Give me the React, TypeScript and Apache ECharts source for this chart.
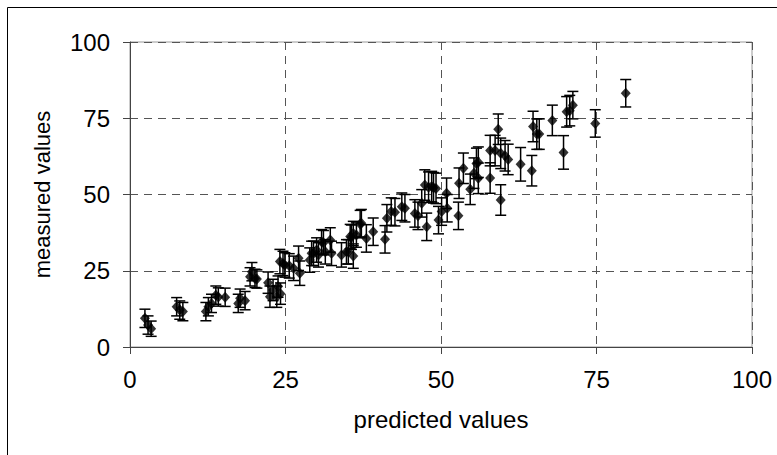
import React, { useEffect, useRef } from "react";
import * as echarts from "echarts";

const predicted = [
  2.4, 2.9, 3.4, 7.5, 8.0, 8.5, 12.2, 12.6, 13.1, 13.8, 14.2, 15.3, 17.4, 17.7, 18.5,
  19.3, 19.6, 20.1, 20.4, 22.2, 22.5, 23.0, 23.6, 23.8, 24.2, 24.1, 24.6, 24.9, 25.6, 26.3,
  27.1, 27.3, 28.9, 29.2, 29.5, 30.0, 30.3, 30.8, 31.1, 31.4, 32.2, 32.4, 34.0, 34.8, 35.1,
  35.4, 35.6, 35.9, 35.9, 36.4, 37.0, 37.2, 38.0, 39.1, 41.0, 41.3, 42.0, 42.6, 43.7, 44.2,
  45.8, 46.3, 46.9, 47.4, 47.7, 48.0, 48.5, 48.8, 49.2, 49.6, 50.1, 50.9, 51.0, 52.8, 52.9,
  53.6, 54.7, 55.3, 55.7, 56.0, 56.0, 57.9, 57.9, 58.7, 59.2, 59.6, 59.6, 60.3, 60.8, 62.8,
  64.6, 64.8, 65.4, 65.8, 67.9, 69.7, 70.2, 70.7, 71.2, 74.8, 79.7,
];

const measured = [
  9.4, 7.2, 6.0, 13.2, 12.1, 11.6, 11.6, 13.2, 14.3, 17.0, 16.4, 16.3, 14.3, 16.0, 15.2,
  23.0, 24.7, 22.5, 22.3, 21.1, 16.5, 18.7, 16.5, 19.8, 17.5, 28.0, 27.4, 26.9, 26.6, 25.8,
  29.1, 24.2, 28.5, 30.7, 30.7, 31.8, 30.2, 34.5, 34.2, 31.2, 35.1, 30.7, 30.2, 31.2, 31.2,
  36.2, 36.0, 37.2, 29.8, 36.7, 40.3, 40.6, 35.6, 37.8, 35.3, 42.2, 44.4, 44.2, 46.0, 45.5,
  43.8, 43.0, 47.1, 53.1, 39.4, 52.4, 52.6, 52.2, 52.0, 41.6, 44.4, 50.4, 45.5, 43.0, 53.7,
  58.6, 51.7, 57.0, 60.2, 55.3, 60.6, 64.4, 55.4, 64.4, 71.4, 63.5, 48.2, 62.7, 61.5, 59.9,
  57.8, 72.3, 69.8, 69.8, 74.3, 63.8, 77.1, 77.5, 79.3, 73.3, 83.2,
];

const errors = [
  3, 3, 2.5, 3, 3, 3, 3, 3, 3, 3, 3, 3, 3, 3, 3,
  3, 3, 3, 3, 3.5, 3.5, 3.5, 3.5, 3.5, 3.5, 4, 4, 4, 4, 4,
  4, 4, 4, 4, 4, 4, 4, 4, 4, 4, 4, 4, 4, 4, 4,
  4, 4, 4, 4, 4, 4.5, 4.5, 4.5, 4.5, 4.5, 4.5, 4.5, 4.5, 4.5, 4.5,
  4.5, 4.5, 4.5, 5, 4.5, 5, 5, 5, 5, 4.5, 4.5, 5, 4.5, 4.5, 5,
  5, 5, 5, 5, 5, 5, 5, 5, 5, 5, 5, 5, 5, 5, 5.5,
  5, 5, 5, 5, 5, 5.5, 5, 5, 4.5, 4.5, 4.5,
];

const xTicks = [0, 25, 50, 75, 100];
const yTicks = [0, 25, 50, 75, 100];
const xTitle = "predicted values";
const yTitle = "measured values";

const FONT = "Liberation Sans, Arial, sans-serif";
const FS = 24;

export default function App() {
  const ref = useRef<HTMLDivElement>(null);

  useEffect(() => {
    if (!ref.current) return;
    const chart = echarts.init(ref.current, null, { renderer: "svg" });
    const points = predicted.map((x, i) => [x, measured[i], errors[i]]);
    const step = xTicks[1] - xTicks[0];
    const ystep = yTicks[1] - yTicks[0];

    chart.setOption({
      animation: false,
      backgroundColor: "#fff",
      graphic: [
        {
          type: "rect",
          shape: { x: 7.5, y: 7.5, width: 820, height: 500 },
          style: { fill: "none", stroke: "#000", lineWidth: 1 },
          silent: true,
          z: 100,
        },
      ],
      grid: {
        left: 130,
        right: 25,
        top: 42,
        bottom: 108,
        show: true,
        borderColor: "#999",
        borderWidth: 1,
        backgroundColor: "#fff",
      },
      xAxis: {
        type: "value",
        min: xTicks[0],
        max: xTicks[xTicks.length - 1],
        interval: step,
        name: xTitle,
        nameLocation: "middle",
        nameGap: 60,
        nameTextStyle: { fontSize: FS, fontFamily: FONT, color: "#000" },
        axisLine: { show: true, onZero: false, lineStyle: { color: "#444", width: 1 } },
        axisTick: { show: true, inside: false, length: 7, lineStyle: { color: "#444" } },
        axisLabel: { fontSize: FS, fontFamily: FONT, color: "#000", margin: 20 },
        splitLine: { show: true, lineStyle: { color: "#555", type: [8, 6], width: 1 } },
      },
      yAxis: {
        type: "value",
        min: yTicks[0],
        max: yTicks[yTicks.length - 1],
        interval: ystep,
        name: yTitle,
        nameLocation: "middle",
        nameGap: 77,
        nameTextStyle: { fontSize: 22, fontFamily: FONT, color: "#000" },
        axisLine: { show: true, onZero: false, lineStyle: { color: "#444", width: 1 } },
        axisTick: { show: true, inside: false, length: 7, lineStyle: { color: "#444" } },
        axisLabel: { fontSize: FS, fontFamily: FONT, color: "#000", margin: 20 },
        splitLine: { show: true, lineStyle: { color: "#555", type: [8, 6], width: 1 } },
      },
      series: [
        {
          type: "custom",
          data: points,
          encode: { x: 0, y: 1 },
          z: 2,
          renderItem: (params: any, api: any) => {
            const x = api.value(0);
            const y = api.value(1);
            const e = api.value(2);
            const top = api.coord([x, y + e]);
            const bot = api.coord([x, y - e]);
            const hw = 5.5;
            const style = { stroke: "#000", lineWidth: 1.5 };
            return {
              type: "group",
              children: [
                { type: "line", shape: { x1: top[0], y1: top[1], x2: bot[0], y2: bot[1] }, style },
                { type: "line", shape: { x1: top[0] - hw, y1: top[1], x2: top[0] + hw, y2: top[1] }, style },
                { type: "line", shape: { x1: bot[0] - hw, y1: bot[1], x2: bot[0] + hw, y2: bot[1] }, style },
              ],
            };
          },
        },
        {
          type: "scatter",
          data: points.map((p) => [p[0], p[1]]),
          symbol: "diamond",
          symbolSize: [10, 11],
          itemStyle: { color: "#000" },
          z: 3,
        },
      ],
    });

    return () => chart.dispose();
  }, []);

  return (
    <div
      ref={ref}
      style={{ position: "fixed", left: 0, top: 0, width: 777, height: 455 }}
    />
  );
}
